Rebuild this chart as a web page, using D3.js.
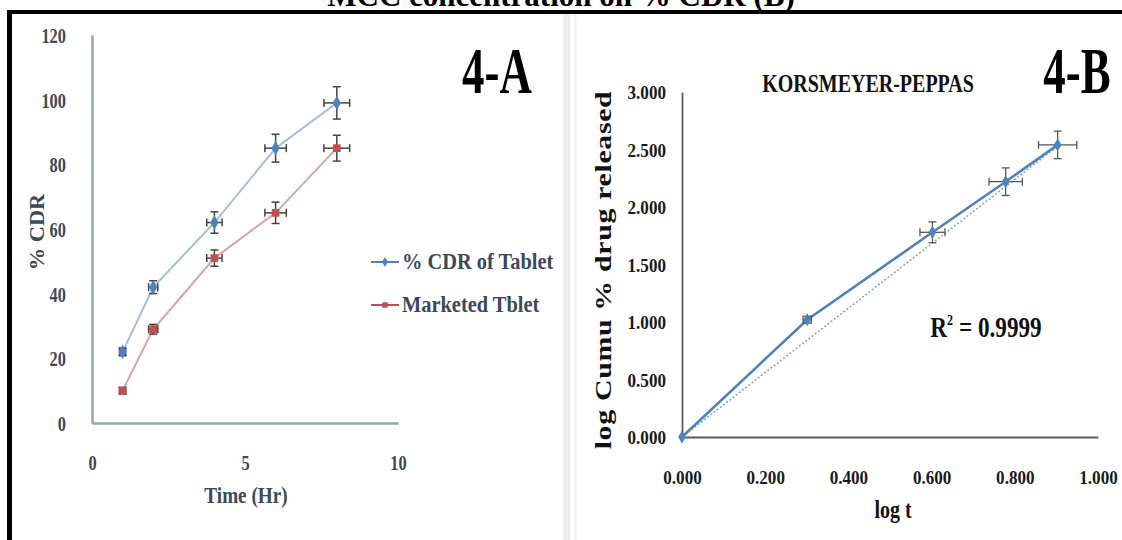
<!DOCTYPE html>
<html><head><meta charset="utf-8">
<script src="https://cdn.jsdelivr.net/npm/d3@7"></script>
<style>
html,body{margin:0;padding:0;background:#fff;}
svg{display:block;}
text{font-family:"Liberation Serif","Times New Roman",serif;font-weight:bold;}
</style></head><body>
<svg id="chart" width="1122" height="540"></svg>
<script>
// ---- Panel 4-A: % CDR over time ----
const timeHr = [1, 2, 4, 6, 8];
const cdrTablet = [22, 42, 62, 85, 99];
const cdrTabletErr = [1.2, 2, 3.3, 4.3, 5];
const cdrMarketed = [10, 29, 51, 65, 85];
const cdrMarketedErr = [1, 1.5, 2.5, 3.3, 4];
const timeErr = [0.1, 0.15, 0.25, 0.35, 0.42];
const seriesNames = ["% CDR of Tablet", "Marketed Tblet"];
const ticksAx = [0, 5, 10];
const ticksAy = [0, 20, 40, 60, 80, 100, 120];

// ---- Panel 4-B: Korsmeyer-Peppas fit ----
const logT = [0.000, 0.301, 0.602, 0.778, 0.903];
const logCumu = [0.000, 1.020, 1.780, 2.220, 2.540];
const logCumuErr = [0, 0.03, 0.09, 0.12, 0.12];
const logTErr = [0, 0.01, 0.03, 0.04, 0.046];
const trendSlope = 2.8, trendIntercept = 0;
const rSquared = "0.9999";
const ticksBx = [0, 0.2, 0.4, 0.6, 0.8, 1.0];
const ticksBy = [0, 0.5, 1.0, 1.5, 2.0, 2.5, 3.0];

const svg = d3.select("#chart");
const SX = 0.8; // horizontal squeeze of lettering

function label(g, txt, x, y, opts = {}) {
  return g.append("text")
    .attr("transform", `translate(${x},${y}) scale(${opts.sx ?? SX},1)`)
    .attr("text-anchor", opts.anchor || "middle")
    .attr("font-size", opts.size || 16)
    .attr("fill", opts.color || "#000")
    .text(txt);
}

// page frame: heading strip, rules and the gap between the panels
label(svg, "MCC concentration on % CDR (B)", 561, 6, {size: 31, sx: 1});
svg.append("rect").attr("x", 7).attr("y", 10).attr("width", 1115).attr("height", 4).attr("fill", "#000");
svg.append("rect").attr("x", 7).attr("y", 10).attr("width", 5).attr("height", 530).attr("fill", "#000");
svg.append("rect").attr("x", 563).attr("y", 14).attr("width", 7).attr("height", 526).attr("fill", "#ececec");
svg.append("line").attr("x1", 575.5).attr("x2", 575.5).attr("y1", 14).attr("y2", 540).attr("stroke", "#f0f0f0").attr("stroke-width", 2);

// ================= Panel A =================
const gA = svg.append("g");
const xA = d3.scaleLinear().domain([0, 10]).range([92, 398]);
const yA = d3.scaleLinear().domain([0, 120]).range([423, 35]);
const axisColA = "#95a3b6";
const textColA = "#3d4858";

const axAx = d3.axisBottom(xA).tickValues(ticksAx).tickSize(0).tickPadding(0).tickFormat(d3.format("d"));
const axAy = d3.axisLeft(yA).tickValues(ticksAy).tickSize(0).tickPadding(0).tickFormat(d3.format("d"));
const gAx = gA.append("g").attr("transform", `translate(0,${yA(0)})`).call(axAx);
const gAy = gA.append("g").attr("transform", `translate(${xA(0)},0)`).call(axAy);
[gAx, gAy].forEach(g => {
  g.attr("font-family", null).attr("font-size", null);
  g.select(".domain").attr("stroke", axisColA).attr("stroke-width", 2.5);
  g.selectAll("text").attr("font-size", 21).attr("fill", textColA);
});
gAx.selectAll(".tick text").attr("y", 0).attr("dy", 0)
  .attr("transform", `translate(0,47) scale(0.78,1)`);
gAy.selectAll(".tick text").attr("x", 0).attr("dy", "0.35em")
  .attr("transform", `translate(-26,0) scale(0.78,1)`);

label(gA, "Time (Hr)", 246, 503, {size: 24, color: textColA});
gA.append("text").attr("transform", "translate(44,232) rotate(-90) scale(1.12,1)")
  .attr("text-anchor", "middle").attr("font-size", 20).attr("fill", textColA).text("% CDR");
label(gA, "4-A", 497, 93, {size: 66, sx: 0.68});

const seriesA = [
  {name: seriesNames[0], y: cdrTablet, err: cdrTabletErr, mark: "#4f81bd", line: "#a6bddb", sym: d3.symbolDiamond},
  {name: seriesNames[1], y: cdrMarketed, err: cdrMarketedErr, mark: "#c0504d", line: "#dca3a2", sym: d3.symbolSquare}
];
const lineA = d3.line().x(d => xA(d[0])).y(d => yA(d[1]));

function errorCross(g, cx, cy, y1, y2, x1, x2) {
  g.append("line").attr("x1", cx).attr("x2", cx).attr("y1", y1).attr("y2", y2);
  g.append("line").attr("x1", cx - 4).attr("x2", cx + 4).attr("y1", y1).attr("y2", y1);
  g.append("line").attr("x1", cx - 4).attr("x2", cx + 4).attr("y1", y2).attr("y2", y2);
  g.append("line").attr("x1", x1).attr("x2", x2).attr("y1", cy).attr("y2", cy);
  g.append("line").attr("x1", x1).attr("x2", x1).attr("y1", cy - 4).attr("y2", cy + 4);
  g.append("line").attr("x1", x2).attr("x2", x2).attr("y1", cy - 4).attr("y2", cy + 4);
}

seriesA.forEach(s => {
  const pts = timeHr.map((t, i) => [t, s.y[i], s.err[i], timeErr[i]]);
  gA.append("path").datum(pts).attr("d", lineA)
    .attr("fill", "none").attr("stroke", s.line).attr("stroke-width", 2);
  const eb = gA.append("g").attr("stroke", "#444").attr("stroke-width", 1.5);
  pts.forEach(p => errorCross(eb, xA(p[0]), yA(p[1]),
    yA(p[1] + p[2]), yA(p[1] - p[2]), xA(p[0] - p[3]), xA(p[0] + p[3])));
  gA.selectAll(null).data(pts).join("path")
    .attr("transform", d => `translate(${xA(d[0])},${yA(d[1])})`)
    .attr("d", d3.symbol(s.sym, 60)).attr("fill", s.mark);
});

// legend
seriesA.forEach((s, i) => {
  const ly = 262 + i * 43;
  gA.append("line").attr("x1", 371).attr("x2", 399).attr("y1", ly).attr("y2", ly)
    .attr("stroke", s.mark).attr("stroke-width", 2);
  gA.append("path").attr("transform", `translate(385,${ly})`)
    .attr("d", d3.symbol(s.sym, 30)).attr("fill", s.mark);
  label(gA, s.name, 402, ly + 7, {anchor: "start", size: 24, sx: 0.85, color: textColA});
});

// ================= Panel B =================
const gB = svg.append("g");
const xB = d3.scaleLinear().domain([0, 1]).range([682, 1098]);
const yB = d3.scaleLinear().domain([0, 3]).range([437, 92]);
const axisColB = "#5a5a5a";
const fmt3 = d3.format(".3f");

const axBx = d3.axisBottom(xB).tickValues(ticksBx).tickSize(0).tickPadding(0).tickFormat(fmt3);
const axBy = d3.axisLeft(yB).tickValues(ticksBy).tickSize(0).tickPadding(0).tickFormat(fmt3);
const gBx = gB.append("g").attr("transform", `translate(0,${yB(0)})`).call(axBx);
const gBy = gB.append("g").attr("transform", `translate(${xB(0)},0)`).call(axBy);
[gBx, gBy].forEach(g => {
  g.attr("font-family", null).attr("font-size", null);
  g.select(".domain").attr("stroke", axisColB).attr("stroke-width", 1.8);
  g.selectAll("text").attr("font-size", 19).attr("fill", "#1a1a1a");
});
gBx.selectAll(".tick text").attr("y", 0).attr("dy", 0)
  .attr("transform", `translate(0,47) scale(0.9,1)`);
gBy.selectAll(".tick text").attr("x", 0).attr("dy", "0.35em")
  .attr("transform", `translate(-16,0) scale(0.9,1)`);

label(gB, "log t", 893, 518, {size: 25, color: "#111"});
gB.append("text").attr("transform", "translate(611,270) rotate(-90) scale(1.3,1)")
  .attr("text-anchor", "middle").attr("font-size", 23).attr("letter-spacing", 0.5)
  .attr("fill", "#111").text("log Cumu % drug released");
label(gB, "KORSMEYER-PEPPAS", 868, 92, {size: 25, sx: 0.8, color: "#111"});
label(gB, "4-B", 1077, 93, {size: 66, sx: 0.68});
gB.append("text").attr("transform", `translate(986,337) scale(${SX},1)`)
  .attr("text-anchor", "middle").attr("font-size", 29).attr("fill", "#111")
  .call(t => {
    t.append("tspan").text("R");
    t.append("tspan").attr("font-size", 15).attr("dy", -12).text("2");
    t.append("tspan").attr("dy", 12).text(" = " + rSquared);
  });

// fitted trend, dotted
const trendPts = [0, d3.max(logT)].map(x => [x, trendIntercept + trendSlope * x]);
gB.append("path").datum(trendPts)
  .attr("d", d3.line().x(d => xB(d[0])).y(d => yB(d[1])))
  .attr("fill", "none").attr("stroke", "#7fa6d6").attr("stroke-width", 1.6).attr("stroke-dasharray", "2,2");

const ptsB = logT.map((x, i) => [x, logCumu[i], logCumuErr[i], logTErr[i]]);
gB.append("path").datum(ptsB)
  .attr("d", d3.line().x(d => xB(d[0])).y(d => yB(d[1])))
  .attr("fill", "none").attr("stroke", "#4f81bd").attr("stroke-width", 2.6);

const ebB = gB.append("g").attr("stroke", "#555").attr("stroke-width", 1.3);
ptsB.filter(p => p[2] > 0 || p[3] > 0).forEach(p => errorCross(ebB, xB(p[0]), yB(p[1]),
  yB(p[1] + p[2]), yB(p[1] - p[2]), xB(p[0] - p[3]), xB(p[0] + p[3])));
gB.selectAll(null).data(ptsB).join("path")
  .attr("transform", d => `translate(${xB(d[0])},${yB(d[1])})`)
  .attr("d", d3.symbol(d3.symbolDiamond, 50)).attr("fill", "#4f81bd");
</script>
</body></html>
